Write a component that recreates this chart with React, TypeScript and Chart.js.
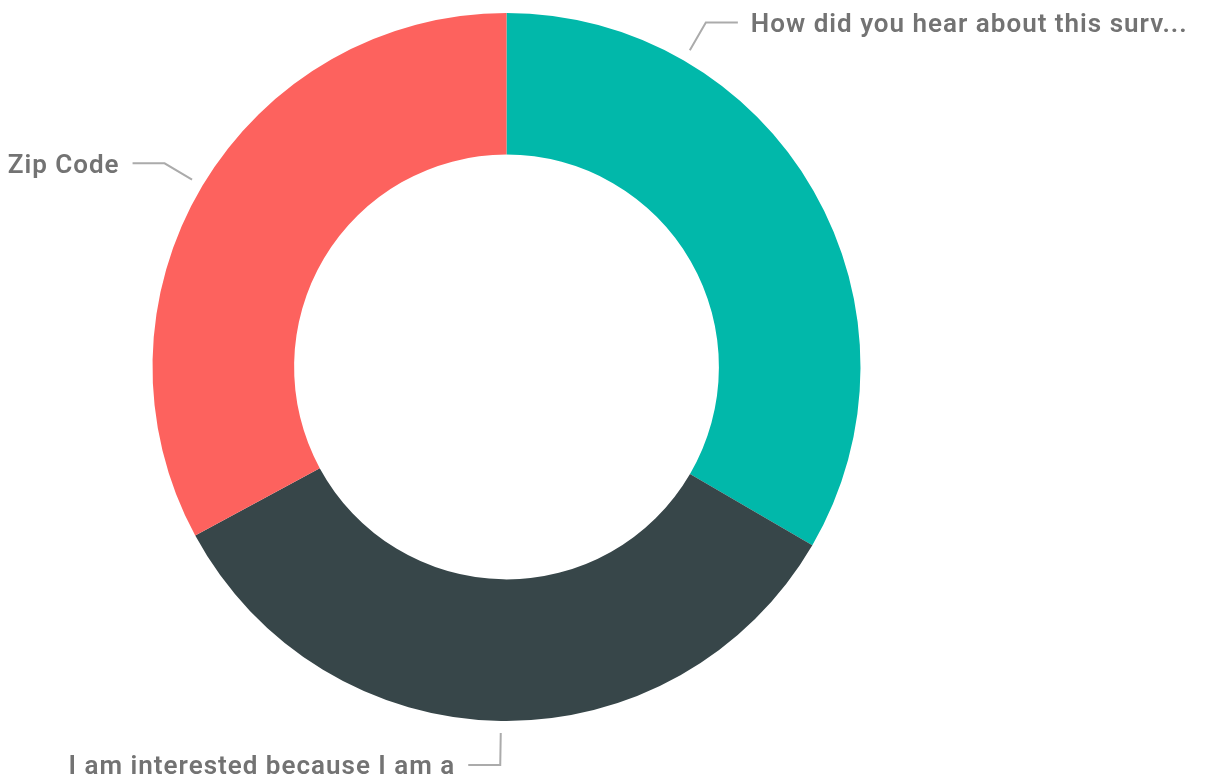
import React, { useEffect, useRef } from "react";
import { Chart, registerables } from "chart.js";

Chart.register(...registerables);

const categories = [
  "How did you hear about this surv...",
  "I am interested because I am a",
  "Zip Code",
];
const values = [33.4, 33.7, 32.9];
const colors = ["#01B8AA", "#374649", "#FD625E"];
// where along each slice the leader line attaches (fraction of the slice's arc)
const anchorFractions = [0.25, 0.5, 0.5];

const leaderPlugin = {
  id: "leaderLabels",
  afterDraw(chart: any) {
    const ctx = chart.ctx;
    const meta = chart.getDatasetMeta(0);
    ctx.save();
    meta.data.forEach((arc: any, i: number) => {
      const { x, y, startAngle, endAngle, outerRadius } = arc.getProps(
        ["x", "y", "startAngle", "endAngle", "outerRadius"],
        true
      );
      const a = startAngle + (endAngle - startAngle) * anchorFractions[i];
      const c = Math.cos(a);
      const s = Math.sin(a);
      const r1 = outerRadius + 12;
      const r2 = outerRadius + 44;
      const p1 = { x: x + r1 * c, y: y + r1 * s };
      const p2 = { x: x + r2 * c, y: y + r2 * s };
      const dir = c >= 0 ? 1 : -1;
      const p3 = { x: p2.x + dir * 32, y: p2.y };
      ctx.strokeStyle = "#ABABAB";
      ctx.lineWidth = 2;
      ctx.beginPath();
      ctx.moveTo(p1.x, p1.y);
      ctx.lineTo(p2.x, p2.y);
      ctx.lineTo(p3.x, p3.y);
      ctx.stroke();
      ctx.fillStyle = "#737373";
      ctx.font = "600 26px Roboto";
      (ctx as any).letterSpacing = "1px";
      ctx.textBaseline = "middle";
      ctx.textAlign = dir > 0 ? "left" : "right";
      ctx.fillText(categories[i], p3.x + dir * 13, p3.y + 3);
    });
    ctx.restore();
  },
};

export default function App() {
  const ref = useRef<HTMLCanvasElement | null>(null);
  useEffect(() => {
    if (!ref.current) return;
    const chart = new Chart(ref.current, {
      type: "doughnut",
      data: {
        labels: categories,
        datasets: [
          {
            data: values,
            backgroundColor: colors,
            borderWidth: 0,
          },
        ],
      },
      options: {
        responsive: false,
        animation: false,
        cutout: "60%",
        layout: { padding: { top: 13, bottom: 59, left: 152, right: 344 } },
        plugins: {
          legend: { display: false },
          tooltip: { enabled: false },
        },
      },
      plugins: [leaderPlugin],
    });
    return () => chart.destroy();
  }, []);
  return (
    <div style={{ position: "fixed", left: 0, top: 0, width: 1205, height: 780, background: "#fff" }}>
      <canvas ref={ref} width={1205} height={780} />
    </div>
  );
}
